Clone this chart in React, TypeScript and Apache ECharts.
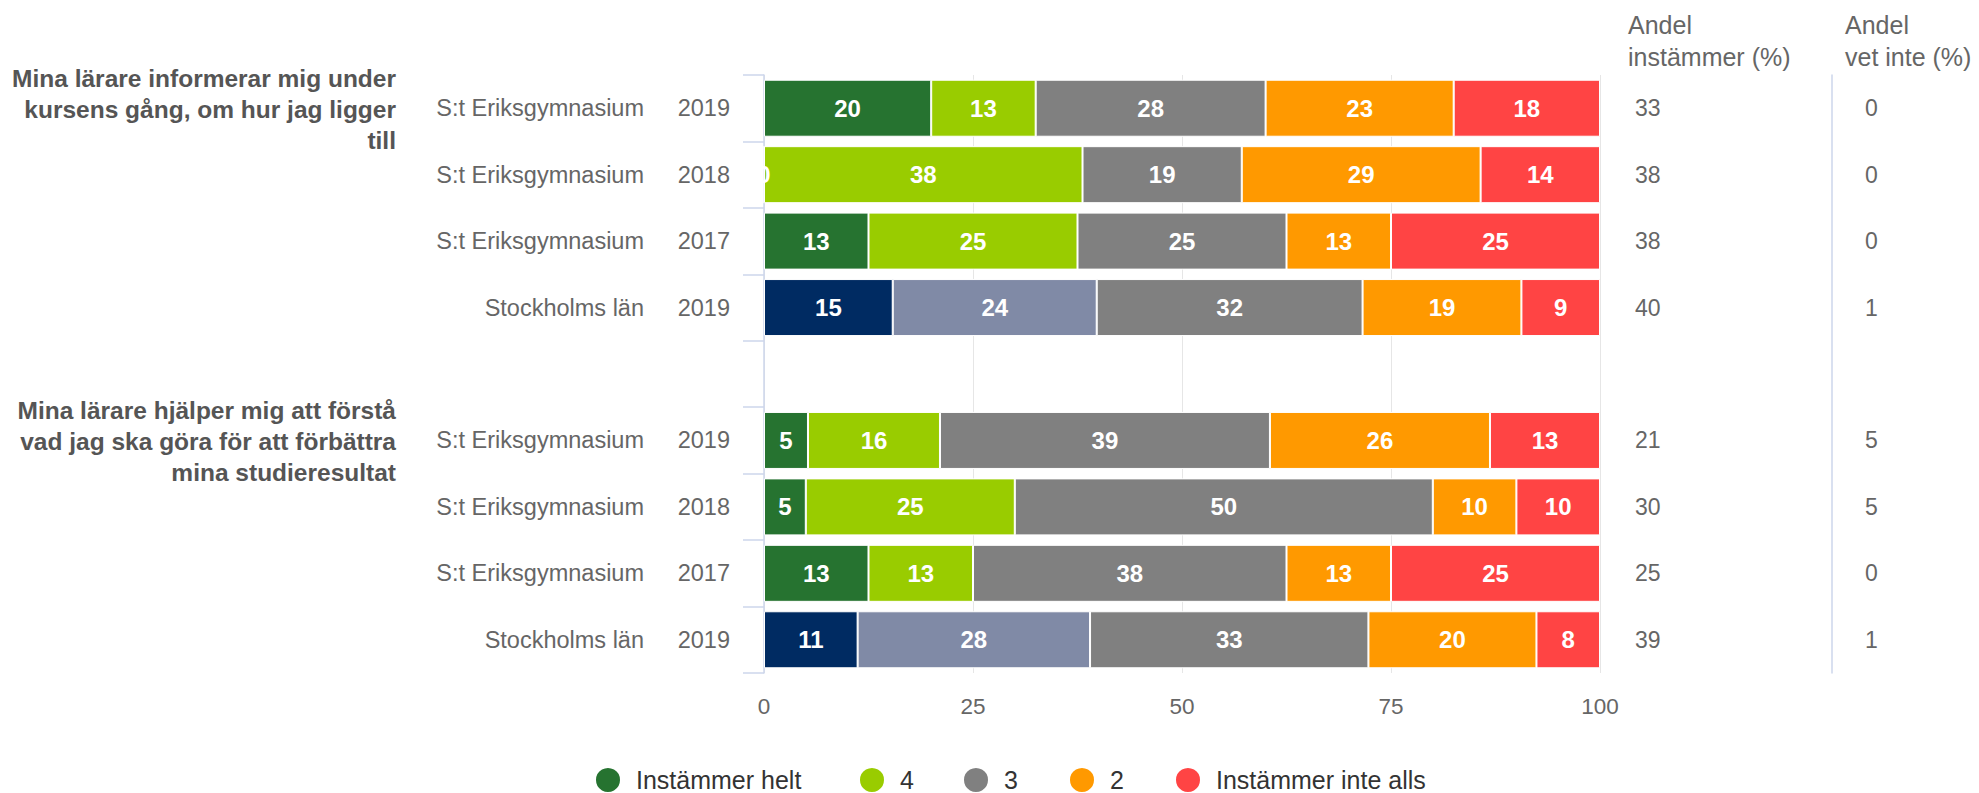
import React, { useEffect, useRef } from "react";
import * as echarts from "echarts";

const seriesNames = ["Instämmer helt", "4", "3", "2", "Instämmer inte alls"];
const seriesColors = ["#267330", "#99cc00", "#808080", "#ff9900", "#ff4444"];
const regionColors = ["#002b62", "#808aa6"];

const rowNames = [
  "S:t Eriksgymnasium",
  "S:t Eriksgymnasium",
  "S:t Eriksgymnasium",
  "Stockholms län",
  "",
  "S:t Eriksgymnasium",
  "S:t Eriksgymnasium",
  "S:t Eriksgymnasium",
  "Stockholms län",
];
const rowYears = ["2019", "2018", "2017", "2019", "", "2019", "2018", "2017", "2019"];
const regionRows = [3, 8];

const instammerHelt = [20, 0, 12.5, 15.4, "-", 5.26, 5, 12.5, 11.2];
const fyra = [12.5, 38.1, 25, 24.4, "-", 15.79, 25, 12.5, 27.8];
const tre = [27.5, 19.05, 25, 31.8, "-", 39.47, 50, 37.5, 33.3];
const tva = [22.5, 28.57, 12.5, 19.0, "-", 26.32, 10, 12.5, 20.1];
const instammerInteAlls = [17.5, 14.28, 25, 9.4, "-", 13.16, 10, 25, 7.6];

const andelInstammer = ["33", "38", "38", "40", "", "21", "30", "25", "39"];
const andelVetInte = ["0", "0", "0", "1", "", "5", "5", "0", "1"];

const questions = [
  "Mina lärare informerar mig under\nkursens gång, om hur jag ligger\ntill",
  "Mina lärare hjälper mig att förstå\nvad jag ska göra för att förbättra\nmina studieresultat",
];

const xTicks = { min: 0, max: 100, interval: 25 };

const legendLefts = [594, 858, 962, 1068, 1174];

const FONT = "'Liberation Sans', Arial, Helvetica, sans-serif";

export default function App() {
  const ref = useRef<HTMLDivElement>(null);

  useEffect(() => {
    if (!ref.current) return;
    const chart = echarts.init(ref.current, undefined, { renderer: "svg" });
    const allValues = [instammerHelt, fyra, tre, tva, instammerInteAlls];
    const categories = rowNames.map((n, i) => (n ? n + " " + rowYears[i] : " " + i));

    const series = allValues.map((vals, si) => ({
      name: seriesNames[si],
      type: "bar",
      stack: "total",
      yAxisIndex: 0,
      barWidth: 57,
      itemStyle: { color: seriesColors[si], borderColor: "#ffffff", borderWidth: 1 },
      label: {
        show: true,
        position: "inside",
        color: "#ffffff",
        fontWeight: "bold",
        fontSize: 24,
        fontFamily: FONT,
        formatter: (p: any) => String(Math.round(p.value)),
      },
      data: vals.map((v, ri) =>
        si < 2 && regionRows.includes(ri)
          ? { value: v, itemStyle: { color: regionColors[si] } }
          : v
      ),
    }));

    const legends = seriesNames.map((name, i) => ({
      data: [name],
      left: legendLefts[i],
      top: 766,
      icon: "circle",
      itemWidth: 46,
      itemHeight: 26,
      padding: 0,
      selectedMode: false,
      textStyle: { fontSize: 25, lineHeight: 22, color: "#333333", fontFamily: FONT },
    }));

    const option: any = {
      animation: false,
      textStyle: { fontFamily: FONT },
      grid: { left: 764, right: 379, top: 75, bottom: 120, containLabel: false },
      legend: legends,
      xAxis: {
        type: "value",
        min: xTicks.min,
        max: xTicks.max,
        interval: xTicks.interval,
        axisLine: { show: false },
        axisTick: { show: false },
        splitLine: { show: true, lineStyle: { color: "#e6e6e6", width: 1 } },
        axisLabel: { fontSize: 22.5, color: "#666666", margin: 22, fontFamily: FONT },
      },
      yAxis: [
        {
          type: "category",
          inverse: true,
          data: categories,
          axisLine: { show: true, lineStyle: { color: "#ccd6eb", width: 1.5 } },
          axisTick: { show: true, length: 21, lineStyle: { color: "#ccd6eb", width: 1.5 } },
          axisLabel: {
            margin: 34,
            formatter: (_v: string, i: number) =>
              rowNames[i] ? `{a|${rowNames[i]}}{b|${rowYears[i]}}` : "",
            rich: {
              a: { fontSize: 23.5, color: "#666666", fontFamily: FONT },
              b: { fontSize: 23.5, color: "#666666", width: 86, align: "right", fontFamily: FONT },
            },
          },
        },
        {
          type: "category",
          inverse: true,
          position: "right",
          offset: 0,
          data: andelInstammer,
          axisLine: { show: false },
          axisTick: { show: false },
          axisLabel: { margin: 35, fontSize: 23, color: "#666666", fontFamily: FONT },
        },
        {
          type: "category",
          inverse: true,
          position: "right",
          offset: 232,
          data: andelVetInte,
          axisLine: { show: true, lineStyle: { color: "#ccd6eb", width: 1.5 } },
          axisTick: { show: false },
          axisLabel: { margin: 33, fontSize: 23, color: "#666666", fontFamily: FONT },
        },
      ],
      graphic: [
        {
          type: "text",
          x: 396,
          y: 63,
          style: {
            text: questions[0],
            align: "right",
            textAlign: "right",
            verticalAlign: "top",
            textVerticalAlign: "top",
            font: `bold 24.5px ${FONT}`,
            lineHeight: 31,
            fill: "#555555",
          },
        },
        {
          type: "text",
          x: 396,
          y: 395,
          style: {
            text: questions[1],
            align: "right",
            textAlign: "right",
            verticalAlign: "top",
            textVerticalAlign: "top",
            font: `bold 24.5px ${FONT}`,
            lineHeight: 31,
            fill: "#555555",
          },
        },
        {
          type: "text",
          x: 1628,
          y: 9,
          style: {
            text: "Andel\ninstämmer (%)",
            align: "left",
            textAlign: "left",
            verticalAlign: "top",
            textVerticalAlign: "top",
            font: `25px ${FONT}`,
            lineHeight: 32,
            fill: "#666666",
          },
        },
        {
          type: "text",
          x: 1845,
          y: 9,
          style: {
            text: "Andel\nvet inte (%)",
            align: "left",
            textAlign: "left",
            verticalAlign: "top",
            textVerticalAlign: "top",
            font: `25px ${FONT}`,
            lineHeight: 32,
            fill: "#666666",
          },
        },
      ],
      series,
    };
    chart.setOption(option);
    return () => chart.dispose();
  }, []);

  return (
    <div
      ref={ref}
      style={{ position: "fixed", left: 0, top: 0, width: "1979px", height: "793px", background: "#ffffff" }}
    />
  );
}
